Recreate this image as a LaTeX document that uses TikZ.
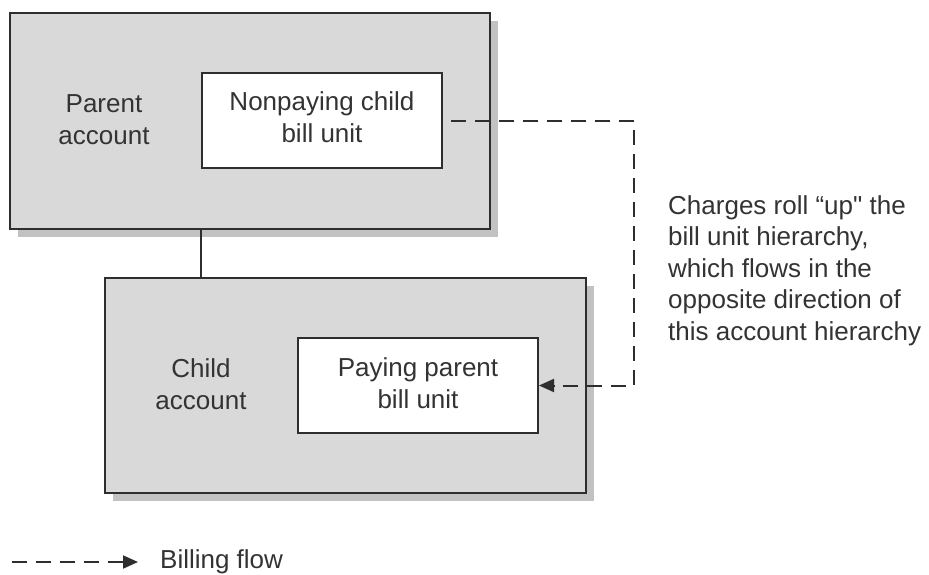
\documentclass[tikz,border=0pt]{standalone}
\usepackage{fontspec}
\setmainfont{Liberation Sans}[Ligatures=TeXOff]
\usetikzlibrary{arrows.meta,shadows}

\definecolor{boxfill}{HTML}{D9D9D9}
\definecolor{shade}{HTML}{C2C2C2}
\definecolor{ink}{HTML}{2E2E2E}
\definecolor{txt}{HTML}{333333}

\tikzset{
  acct/.style={draw=ink, line width=2pt, fill=boxfill, inner sep=0pt,
    drop shadow={shadow xshift=8pt, shadow yshift=-8pt, fill=shade, opacity=1}},
  unitbox/.style={draw=ink, line width=2pt, fill=white, inner sep=0pt,
    minimum width=240pt, minimum height=95pt},
  lbl/.style={inner sep=0pt, text=txt, align=center,
    font=\fontsize{26}{31.5}\selectfont},
  link/.style={draw=ink, line width=2pt},
  flow/.style={draw=ink, line width=2pt, dash pattern=on 15pt off 9pt,
    -{Triangle[length=15pt, width=13pt]}},
}

\begin{document}
\begin{tikzpicture}[x=1pt, y=-1pt]
  \useasboundingbox (0,0) rectangle (929,574);

  % account boxes
  \node[acct, minimum width=480pt, minimum height=216pt] (parent) at (250,121) {};
  \node[acct, minimum width=481pt, minimum height=215pt] (child) at (345.5,385.5) {};

  % bill unit boxes
  \node[unitbox] (np) at (322,120.5) {};
  \node[unitbox] (pay) at (418,385.5) {};

  % account hierarchy link
  \draw[link] (parent.south -| np.west) -- (child.north -| np.west);

  % labels (base anchor sits on the last line)
  \node[lbl, anchor=base] (ptxt) at (104,144) {Parent\\account};
  \node[lbl, anchor=base] (nptxt) at (322,142) {Nonpaying child\\bill unit};
  \node[lbl, anchor=base] (ctxt) at (201,409) {Child\\account};
  \node[lbl, anchor=base] (paytxt) at (418,408) {Paying parent\\bill unit};
  \node[lbl, align=left, anchor=base west] (note) at (668,340)
    {Charges roll “up" the\\bill unit hierarchy,\\which flows in the\\opposite direction of\\this account hierarchy};

  % billing flow between bill units
  \coordinate (turn) at (634,120.5);
  \draw[flow] ([xshift=8pt]np.east) -- (turn) |- (pay.east);

  % legend
  \coordinate (lgs) at (12,562);
  \coordinate (lge) at (138,562);
  \draw[flow] (lgs) -- (lge);
  \node[lbl, anchor=base west] (lgt) at (160,568) {Billing flow};
\end{tikzpicture}
\end{document}
